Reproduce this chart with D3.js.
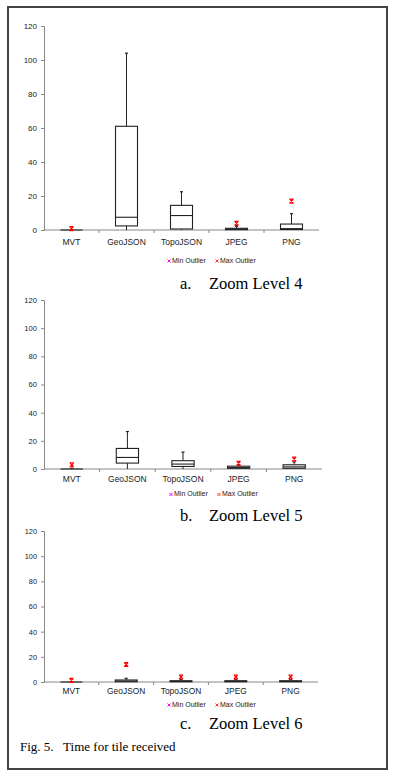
<!DOCTYPE html>
<html>
<head>
<meta charset="utf-8">
<script src="https://cdn.jsdelivr.net/npm/d3@7"></script>
<style>
  body { margin: 0; background: #fff; }
  svg { display: block; }
</style>
</head>
<body>
<svg id="paper"></svg>
<script>
(function () {
    var categories = ["MVT", "GeoJSON", "TopoJSON", "JPEG", "PNG"];
    var yTicks = [0, 20, 40, 60, 80, 100, 120];

    // zoom level 4
    var z4Min = [0, 0, 0, 0, 0];
    var z4Q1 = [0, 2.4, 0.6, 0.2, 0.3];
    var z4Median = [0, 7.5, 8.5, 0.5, 0.8];
    var z4Q3 = [0, 61, 14.5, 1, 3.5];
    var z4Max = [0.3, 104, 22.5, 2.2, 9.6];
    var z4MaxOutlier = [0.8, null, null, 3.9, 17];

    // zoom level 5
    var z5Min = [0, 0, 0, 0, 0];
    var z5Q1 = [0, 4.2, 1.8, 0.5, 0.5];
    var z5Median = [0, 8.2, 3.5, 1, 1.5];
    var z5Q3 = [0, 14.6, 5.9, 2, 3];
    var z5Max = [0.5, 26.6, 12, 3, 5];
    var z5MaxOutlier = [3, null, null, 4, 7];

    // zoom level 6
    var z6Min = [0, 0, 0, 0, 0];
    var z6Q1 = [0, 0.2, 0.2, 0.2, 0.2];
    var z6Median = [0, 0.8, 0.5, 0.5, 0.5];
    var z6Q3 = [0, 1.6, 1, 1, 1];
    var z6Max = [0.2, 2.9, 2, 2, 2];
    var z6MaxOutlier = [1.3, 13.9, 4, 4, 4];

    var width = 395,
        height = 779;

    var svg = d3.select('#paper')
        .attr('width', width)
        .attr('height', height);

    // page frame
    svg.append("rect")
        .attr("x", 8).attr("y", 7)
        .attr("width", 379).attr("height", 762)
        .attr("fill", "none")
        .attr("stroke", "#444")
        .attr("stroke-width", 2);

    function rows(mins, q1s, meds, q3s, maxs, outs) {
        return categories.map(function (c, i) {
            return {cat: c, min: mins[i], q1: q1s[i], med: meds[i], q3: q3s[i], max: maxs[i], out: outs[i]};
        });
    }

    var markerPath = "M-2,-2L2,-2M-2,2L2,2M-2,-2L2,2M2,-2L-2,2";

    function panel(data, opt) {
        var g = svg.append("g");
        var x = d3.scaleBand().domain(categories).range([44, opt.right]);
        var y = d3.scaleLinear().domain([0, 120]).range([opt.bottom, opt.top]);

        // y axis
        var yAxis = g.append("g")
            .attr("transform", "translate(44,0)")
            .call(d3.axisLeft(y).tickValues(yTicks).tickSize(3).tickPadding(4));
        yAxis.select(".domain").attr("stroke", "#888");
        yAxis.selectAll(".tick line").attr("stroke", "#888");
        yAxis.selectAll("text")
            .attr("font-family", "Liberation Sans, Arial, sans-serif")
            .attr("font-size", opt.tickFont)
            .attr("fill", "#222");

        // x axis with ticks between categories
        var xg = g.append("g");
        xg.append("line")
            .attr("x1", 44).attr("x2", opt.right)
            .attr("y1", y(0)).attr("y2", y(0))
            .attr("stroke", "#888");
        xg.selectAll("line.sep")
            .data(categories.slice(1))
            .enter().append("line")
            .attr("class", "sep")
            .attr("x1", function (d) { return x(d); })
            .attr("x2", function (d) { return x(d); })
            .attr("y1", y(0)).attr("y2", y(0) + 3)
            .attr("stroke", "#888");
        xg.selectAll("text")
            .data(categories)
            .enter().append("text")
            .attr("x", function (d) { return x(d) + x.bandwidth() / 2; })
            .attr("y", opt.labelY)
            .attr("text-anchor", "middle")
            .attr("dominant-baseline", "middle")
            .attr("font-family", "Liberation Sans, Arial, sans-serif")
            .attr("font-size", opt.catFont)
            .attr("fill", "#222")
            .text(function (d) { return d; });

        var bw = x.bandwidth() * 0.4;
        var box = g.selectAll("g.box")
            .data(data)
            .enter().append("g")
            .attr("class", "box")
            .attr("transform", function (d) {
                return "translate(" + (x(d.cat) + x.bandwidth() / 2) + ",0)";
            });

        // whiskers
        box.append("line")
            .attr("y1", function (d) { return y(d.q3); })
            .attr("y2", function (d) { return y(d.max); })
            .attr("stroke", "#222");
        box.append("line")
            .attr("x1", -1.5).attr("x2", 1.5)
            .attr("y1", function (d) { return y(d.max); })
            .attr("y2", function (d) { return y(d.max); })
            .attr("stroke", "#222")
            .attr("stroke-width", 1.2);
        box.append("line")
            .attr("y1", function (d) { return y(d.q1); })
            .attr("y2", function (d) { return y(d.min); })
            .attr("stroke", "#222");

        box.append("rect")
            .attr("x", -bw / 2)
            .attr("width", bw)
            .attr("y", function (d) { return y(d.q3); })
            .attr("height", function (d) { return y(d.q1) - y(d.q3); })
            .attr("fill", "#fff")
            .attr("stroke", "#222")
            .attr("stroke-width", 1.1);
        box.append("line")
            .attr("x1", -bw / 2).attr("x2", bw / 2)
            .attr("y1", function (d) { return y(d.med); })
            .attr("y2", function (d) { return y(d.med); })
            .attr("stroke", "#222")
            .attr("stroke-width", 1.1);

        box.filter(function (d) { return d.out != null; })
            .append("path")
            .attr("d", markerPath)
            .attr("transform", function (d) { return "translate(0," + y(d.out) + ")"; })
            .attr("fill", "none")
            .attr("stroke", "#f00")
            .attr("stroke-width", 1.1);

        // legend
        var leg = g.append("g").attr("transform", "translate(0," + opt.legendY + ")");
        var items = [{label: "Min Outlier", color: "#f0f", x: opt.legendX},
                     {label: "Max Outlier", color: "#f33", x: opt.legendX + 48}];
        items.forEach(function (it) {
            leg.append("path")
                .attr("d", "M-1.5,-1.5L1.5,1.5M1.5,-1.5L-1.5,1.5")
                .attr("transform", "translate(" + it.x + ",0)")
                .attr("stroke", it.color)
                .attr("stroke-width", 1);
            leg.append("text")
                .attr("x", it.x + 3)
                .attr("y", 0)
                .attr("dominant-baseline", "middle")
                .attr("font-family", "Liberation Sans, Arial, sans-serif")
                .attr("font-size", 7)
                .attr("fill", "#222")
                .text(it.label);
        });

        // caption
        g.append("text")
            .attr("x", 180).attr("y", opt.captionY)
            .attr("font-family", "Liberation Serif, Times New Roman, serif")
            .attr("font-size", 16.5)
            .text(opt.letter);
        g.append("text")
            .attr("x", 209).attr("y", opt.captionY)
            .attr("font-family", "Liberation Serif, Times New Roman, serif")
            .attr("font-size", 16.5)
            .text(opt.caption);
    }

    panel(rows(z4Min, z4Q1, z4Median, z4Q3, z4Max, z4MaxOutlier), {
        top: 26, bottom: 230, right: 319, labelY: 243, tickFont: 8, catFont: 8.5,
        legendY: 261, legendX: 169, captionY: 289, letter: "a.", caption: "Zoom Level 4"
    });
    panel(rows(z5Min, z5Q1, z5Median, z5Q3, z5Max, z5MaxOutlier), {
        top: 300, bottom: 469, right: 322, labelY: 480, tickFont: 7.6, catFont: 8.5,
        legendY: 494.5, legendX: 171, captionY: 521, letter: "b.", caption: "Zoom Level 5"
    });
    panel(rows(z6Min, z6Q1, z6Median, z6Q3, z6Max, z6MaxOutlier), {
        top: 531, bottom: 682, right: 318, labelY: 692, tickFont: 7.4, catFont: 8.4,
        legendY: 705, legendX: 169, captionY: 728.5, letter: "c.", caption: "Zoom Level 6"
    });

    svg.append("text")
        .attr("x", 20).attr("y", 751)
        .attr("font-family", "Liberation Serif, Times New Roman, serif")
        .attr("font-size", 13)
        .attr("xml:space", "preserve")
        .text("Fig. 5.   Time for tile received");
})();
</script>
</body>
</html>
